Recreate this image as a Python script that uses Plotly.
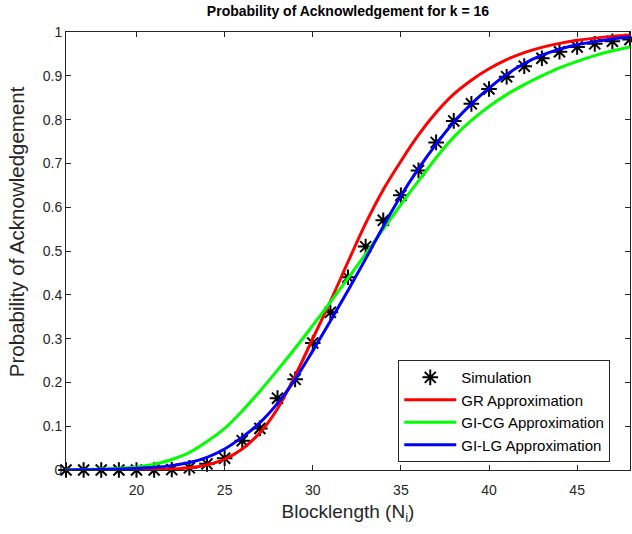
import plotly.graph_objects as go

blocklength = list(range(16, 49))

simulation = [0.0, 0.0, 0.0, 0.0, 0.0, 0.0, 0.001, 0.005, 0.014, 0.027, 0.067, 0.095, 0.164, 0.207,
              0.29, 0.36, 0.44, 0.51, 0.57, 0.627, 0.684, 0.748, 0.797, 0.836, 0.87, 0.898, 0.922,
              0.94, 0.955, 0.966, 0.973, 0.979, 0.983]

gr_approx = [0.0, 0.0, 0.0, 0.0003, 0.0006, 0.001, 0.002, 0.005, 0.012, 0.025, 0.048, 0.085, 0.14,
             0.215, 0.30, 0.385, 0.475, 0.563, 0.64, 0.705, 0.765, 0.816, 0.858, 0.89, 0.916, 0.937,
             0.953, 0.965, 0.974, 0.981, 0.986, 0.99, 0.993]

gicg_approx = [0.0005, 0.001, 0.002, 0.004, 0.007, 0.013, 0.024, 0.04, 0.065, 0.095, 0.135, 0.18,
               0.228, 0.278, 0.33, 0.383, 0.438, 0.493, 0.55, 0.606, 0.66, 0.713, 0.76, 0.798, 0.83,
               0.857, 0.88, 0.9, 0.918, 0.933, 0.946, 0.957, 0.966]

gilg_approx = [0.0, 0.0005, 0.001, 0.002, 0.004, 0.006, 0.01, 0.017, 0.029, 0.048, 0.075, 0.108, 0.152,
               0.207, 0.272, 0.34, 0.41, 0.482, 0.556, 0.626, 0.688, 0.744, 0.794, 0.836, 0.872, 0.903,
               0.928, 0.947, 0.961, 0.971, 0.978, 0.984, 0.989]

x_ticks = [20, 25, 30, 35, 40, 45]
y_ticks = [0, 0.1, 0.2, 0.3, 0.4, 0.5, 0.6, 0.7, 0.8, 0.9, 1]
y_tick_labels = ["0", "0.1", "0.2", "0.3", "0.4", "0.5", "0.6", "0.7", "0.8", "0.9", "1"]

FONT = "Liberation Sans, Arial, Helvetica"

fig = go.Figure()
fig.add_trace(go.Scatter(x=blocklength, y=simulation, mode="markers", name="Simulation",
                         cliponaxis=False,
                         marker=dict(symbol="asterisk-open", size=13, color="black",
                                     line=dict(color="black", width=2))))
fig.add_trace(go.Scatter(x=blocklength, y=gr_approx, mode="lines", name="GR Approximation",
                         line=dict(color="#ff0000", width=3, shape="spline")))
fig.add_trace(go.Scatter(x=blocklength, y=gicg_approx, mode="lines", name="GI-CG Approximation",
                         line=dict(color="#00ff00", width=3, shape="spline")))
fig.add_trace(go.Scatter(x=blocklength, y=gilg_approx, mode="lines", name="GI-LG Approximation",
                         line=dict(color="#0000ff", width=3, shape="spline")))

axis_common = dict(showgrid=False, zeroline=False, showline=True, linecolor="#262626", linewidth=1,
                   ticks="inside", ticklen=5, tickcolor="#262626", mirror="ticks",
                   tickfont=dict(family=FONT, size=14, color="#262626"))

fig.update_layout(
    width=632, height=534,
    margin=dict(l=66, r=2, t=32, b=64),
    paper_bgcolor="white", plot_bgcolor="white",
    title=dict(text="<b>Probability of Acknowledgement for k = 16</b>", x=0.5, xref="paper",
               y=0.988, yanchor="top",
               font=dict(family=FONT, size=14, color="black")),
    xaxis=dict(range=[16, 48], tickvals=x_ticks, ticklabelstandoff=7,
               title=dict(text="Blocklength (N<sub>i</sub>)", standoff=7,
                          font=dict(family=FONT, size=19, color="#262626")),
               **axis_common),
    yaxis=dict(range=[0, 1], tickvals=y_ticks, ticktext=y_tick_labels, **axis_common),
    annotations=[dict(text="Probability of Acknowledgement", textangle=-90, showarrow=False,
                      xref="paper", yref="paper", x=0, y=0.543, xanchor="center", yanchor="middle",
                      xshift=-50, font=dict(family=FONT, size=20.5, color="#262626"))],
    legend=dict(x=0.965, y=0.018, xanchor="right", yanchor="bottom", bgcolor="white",
                bordercolor="#262626", borderwidth=1, tracegroupgap=0, itemwidth=52,
                font=dict(family=FONT, size=15, color="black")),
    showlegend=True,
)

fig.write_html("out.html")
